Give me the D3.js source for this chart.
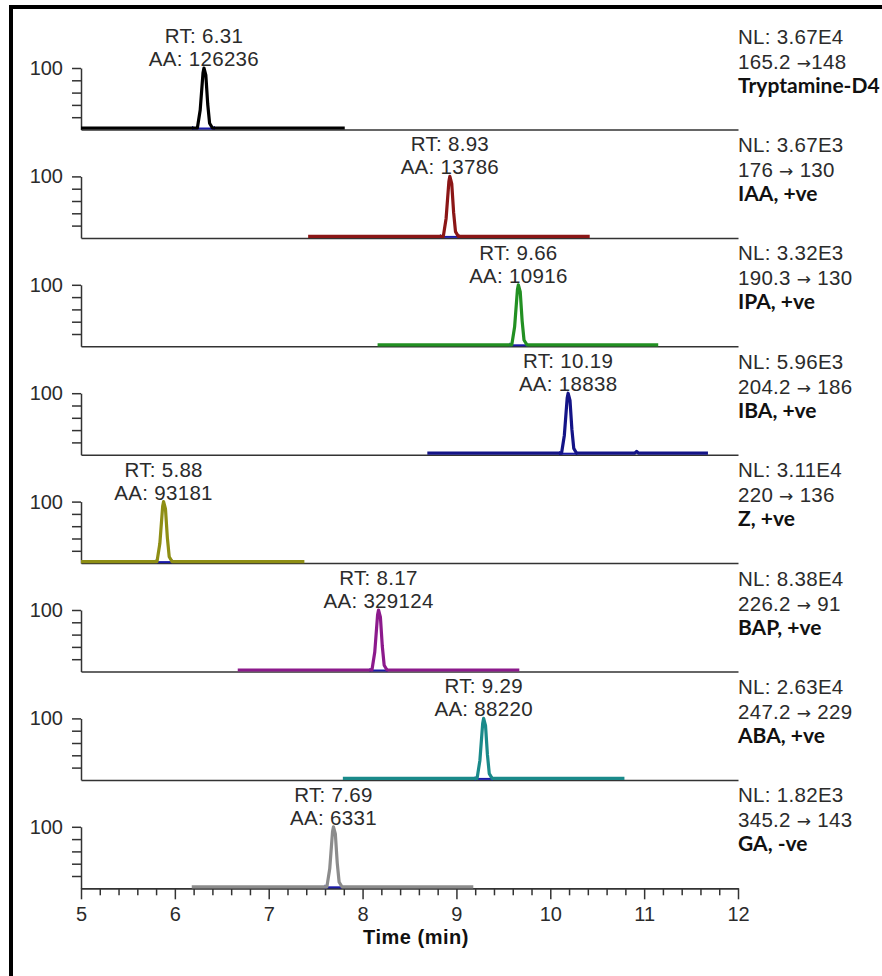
<!DOCTYPE html>
<html>
<head>
<meta charset="utf-8">
<script src="https://d3js.org/d3.v7.min.js"></script>
<style>
body { margin: 0; background: #fff; }
svg { display: block; font-family: "Liberation Sans", Arial, sans-serif; }
.lbl { font-family: "Liberation Sans", Arial, sans-serif; font-size: 20.5px; fill: #2b2b2b; letter-spacing: 0.3px; }
.arrow { font-family: "DejaVu Sans", sans-serif; font-size: 17px; }
.cmp { font-family: Lato, "Open Sans", sans-serif; font-weight: 700; font-size: 21px; fill: #111; }
.axis path, .axis line { stroke: #333; stroke-width: 1.5; }
.axis text { font-family: "Liberation Sans", Arial, sans-serif; font-size: 20px; fill: #2b2b2b; }
.xtitle { font-family: "Liberation Sans", Arial, sans-serif; font-size: 20px; font-weight: 700; fill: #111; letter-spacing: 0.5px; }
</style>
</head>
<body>
<svg id="chart" width="882" height="976"></svg>
<script>
// panel info, top to bottom
const compounds = ["Tryptamine-D4", "IAA, +ve", "IPA, +ve", "IBA, +ve", "Z, +ve", "BAP, +ve", "ABA, +ve", "GA, -ve"];
const nlValues = ["3.67E4", "3.67E3", "3.32E3", "5.96E3", "3.11E4", "8.38E4", "2.63E4", "1.82E3"];
const transitions = ["165.2 \u2192148", "176 \u2192 130", "190.3 \u2192 130", "204.2 \u2192 186", "220 \u2192 136", "226.2 \u2192 91", "247.2 \u2192 229", "345.2 \u2192 143"];
const rtValues = ["6.31", "8.93", "9.66", "10.19", "5.88", "8.17", "9.29", "7.69"];
const aaValues = ["126236", "13786", "10916", "18838", "93181", "329124", "88220", "6331"];
const rtNum = [6.31, 8.93, 9.66, 10.19, 5.88, 8.17, 9.29, 7.69];

// integrated peak bounds (min)
const peakStart = [6.19, 8.83, 9.57, 10.10, 5.80, 8.08, 9.20, 7.60];
const peakEnd = [6.42, 9.03, 9.75, 10.28, 5.97, 8.26, 9.38, 7.77];

// traces: [time (min), relative abundance %]
const trace1 = [[5.00, 0], [6.24, 0], [6.27, 30], [6.30, 92], [6.31, 100], [6.33, 88], [6.35, 40], [6.37, 8], [6.40, 0], [7.81, 0]];
const trace2 = [[7.42, 0], [8.86, 0], [8.89, 30], [8.92, 92], [8.93, 100], [8.95, 88], [8.97, 40], [8.99, 8], [9.02, 0], [10.42, 0]];
const trace3 = [[8.16, 0], [9.59, 0], [9.62, 30], [9.65, 92], [9.66, 100], [9.68, 88], [9.70, 40], [9.72, 8], [9.75, 0], [11.15, 0]];
const trace4 = [[8.69, 0], [10.12, 0], [10.15, 30], [10.18, 92], [10.19, 100], [10.21, 88], [10.23, 40], [10.25, 8], [10.28, 0], [10.90, 0], [10.92, 3], [10.94, 0], [11.68, 0]];
const trace5 = [[5.00, 0], [5.81, 0], [5.84, 30], [5.87, 92], [5.88, 100], [5.90, 88], [5.92, 40], [5.94, 8], [5.97, 0], [7.38, 0]];
const trace6 = [[6.67, 0], [8.10, 0], [8.13, 30], [8.16, 92], [8.17, 100], [8.19, 88], [8.21, 40], [8.23, 8], [8.26, 0], [9.67, 0]];
const trace7 = [[7.79, 0], [9.22, 0], [9.25, 30], [9.28, 92], [9.29, 100], [9.31, 88], [9.33, 40], [9.35, 8], [9.38, 0], [10.79, 0]];
const trace8 = [[6.18, 0], [7.62, 0], [7.65, 30], [7.68, 92], [7.69, 100], [7.71, 88], [7.73, 40], [7.75, 8], [7.78, 0], [9.18, 0]];
const traces = [trace1, trace2, trace3, trace4, trace5, trace6, trace7, trace8];

const xTicks = [5, 6, 7, 8, 9, 10, 11, 12];
const yTicks = [20, 40, 60, 80, 100];

const colors = ["#000000", "#8b1616", "#229022", "#141487", "#8e8e14", "#8c1a8c", "#1a8a8a", "#8c8c8c"];
const markColor = "#1a1aa8";

const svg = d3.select("#chart");

// frame (cropped on right and bottom)
svg.append("rect").attr("x", 11).attr("y", 7).attr("width", 1000).attr("height", 1100)
  .attr("fill", "none").attr("stroke", "#000").attr("stroke-width", 4);

const x = d3.scaleLinear().domain([5, 12]).range([81, 738]);
const firstBase = 129.5, step = 108.4, panelH = 61.5;

traces.forEach((tr, i) => {
  const base = firstBase + i * step;
  const yAx = d3.scaleLinear().domain([0, 100]).range([base, base - panelH]);
  const y = d3.scaleLinear().domain([0, 100]).range([base - 1.5, base - panelH]);
  const g = svg.append("g");

  // x baseline
  const isLast = i === traces.length - 1;
  const xa = g.append("g").attr("class", "axis").attr("transform", `translate(0,${base})`);
  if (isLast) {
    const minor = d3.range(5, 12.001, 0.2).filter(v => Math.abs(v - Math.round(v)) > 0.01);
    xa.call(d3.axisBottom(x).tickValues(minor).tickSize(7).tickSizeOuter(0).tickFormat(""));
    const xb = g.append("g").attr("class", "axis").attr("transform", `translate(0,${base})`);
    xb.call(d3.axisBottom(x).tickValues(xTicks).tickSize(11).tickSizeOuter(0).tickPadding(8).tickFormat(d3.format("d")));
  } else {
    xa.call(d3.axisBottom(x).tickValues([]).tickSizeOuter(0));
  }

  // y axis
  g.append("g").attr("class", "axis").attr("transform", `translate(${x(5)},0)`)
    .call(d3.axisLeft(yAx).tickValues(yTicks).tickSize(9).tickSizeOuter(0).tickPadding(9)
      .tickFormat(d => d === 100 ? "100" : ""));

  // integration marker
  const my = base - 1;
  g.append("line").attr("x1", x(peakStart[i])).attr("x2", x(peakEnd[i]))
    .attr("y1", my).attr("y2", my).attr("stroke", markColor).attr("stroke-width", 2);
  [peakStart[i], peakEnd[i]].forEach(t => {
    g.append("line").attr("x1", x(t)).attr("x2", x(t)).attr("y1", my - 2.5).attr("y2", my + 1.5)
      .attr("stroke", markColor).attr("stroke-width", 1.2);
  });

  // trace
  g.append("path").datum(tr)
    .attr("d", d3.line().x(d => x(d[0])).y(d => y(d[1])))
    .attr("fill", "none").attr("stroke", colors[i]).attr("stroke-width", 3.2)
    .attr("stroke-linejoin", "round");

  // peak labels
  const top = base - panelH;
  g.append("text").attr("class", "lbl").attr("x", x(rtNum[i])).attr("y", top - 25)
    .attr("text-anchor", "middle").text("RT: " + rtValues[i]);
  g.append("text").attr("class", "lbl").attr("x", x(rtNum[i])).attr("y", top - 2)
    .attr("text-anchor", "middle").text("AA: " + aaValues[i]);

  // right side info
  g.append("text").attr("class", "lbl").attr("x", 738).attr("y", base - 86).text("NL: " + nlValues[i]);
  const tt = g.append("text").attr("class", "lbl").attr("x", 738).attr("y", base - 61);
  transitions[i].split(/(\u2192)/).forEach(part => {
    tt.append("tspan").attr("class", part === "\u2192" ? "arrow" : null).text(part);
  });
  g.append("text").attr("class", "cmp").attr("x", 738).attr("y", base - 37).text(compounds[i]);
});

svg.append("text").attr("class", "xtitle").attr("x", 416).attr("y", 944)
  .attr("text-anchor", "middle").text("Time (min)");
</script>
</body>
</html>
